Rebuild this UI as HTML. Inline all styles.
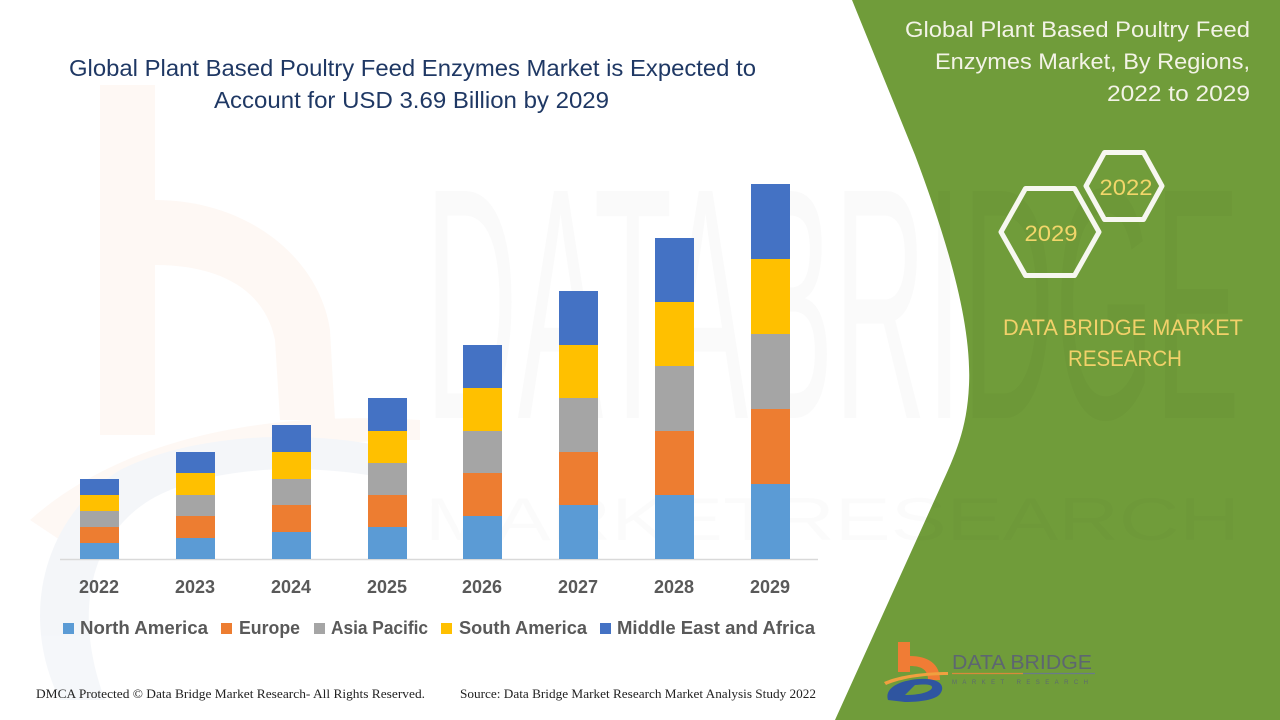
<!DOCTYPE html>
<html>
<head>
<meta charset="utf-8">
<style>
html,body{margin:0;padding:0;background:#fff;width:1280px;height:720px;overflow:hidden;}
svg{display:block;}
</style>
</head>
<body>
<svg width="1280" height="720" viewBox="0 0 1280 720" xmlns="http://www.w3.org/2000/svg">
  <rect width="1280" height="720" fill="#ffffff"/>

  <!-- faint watermark b (left) -->
  <g opacity="0.4">
    <rect x="100" y="85" width="55" height="350" fill="#fdeee4"/>
    <path d="M155,200 C250,200 320,260 330,330 L335,420 L280,420 L275,340 C265,290 220,265 155,265 Z" fill="#fdeee4"/>
    <path d="M30,520 C120,440 260,410 420,420 L420,440 C280,440 150,470 60,540 Z" fill="#fdeee4"/>
    <path d="M60,700 C20,620 40,520 120,470 C200,430 320,430 400,450 L395,480 C310,462 210,465 150,500 C85,540 75,620 105,700 Z" fill="#e6ebf2"/>
  </g>

  <!-- green panel -->
  <path d="M852,0 L915,155 C945,235 972,320 969,385 C967,430 955,455 940,488 L835,720 L1280,720 L1280,0 Z" fill="#709c3a"/>

  <!-- faint DATA BRIDGE watermark letters (over both areas) -->
  <g opacity="0.014" font-family="Liberation Sans, sans-serif" fill="#000">
    <text x="425" y="418" font-size="110" transform="translate(0,418) scale(1,3) translate(0,-418)" textLength="815" lengthAdjust="spacingAndGlyphs">DATABRIDGE</text>
  </g>
  <g opacity="0.012" font-family="Liberation Sans, sans-serif" fill="#000">
    <text x="425" y="540" font-size="60" textLength="815" lengthAdjust="spacingAndGlyphs">MARKETRESEARCH</text>
  </g>

  <!-- main title -->
  <g font-family="Liberation Sans, sans-serif" fill="#1f3864" font-size="23">
    <text x="69" y="76" textLength="687" lengthAdjust="spacingAndGlyphs">Global Plant Based Poultry Feed Enzymes Market is Expected to</text>
    <text x="214" y="108" textLength="395" lengthAdjust="spacingAndGlyphs">Account for USD 3.69 Billion by 2029</text>
  </g>

  <!-- axis -->
  <line x1="60" y1="559.5" x2="818" y2="559.5" stroke="#d9d9d9" stroke-width="1.5"/>

  <!-- bars -->
  <g>
    <rect x="80" y="543" width="39" height="16" fill="#5b9bd5"/>
    <rect x="80" y="527" width="39" height="16" fill="#ed7d31"/>
    <rect x="80" y="511" width="39" height="16" fill="#a5a5a5"/>
    <rect x="80" y="495" width="39" height="16" fill="#ffc000"/>
    <rect x="80" y="479" width="39" height="16" fill="#4472c4"/>

    <rect x="176" y="538" width="39" height="21" fill="#5b9bd5"/>
    <rect x="176" y="516" width="39" height="22" fill="#ed7d31"/>
    <rect x="176" y="495" width="39" height="21" fill="#a5a5a5"/>
    <rect x="176" y="473" width="39" height="22" fill="#ffc000"/>
    <rect x="176" y="452" width="39" height="21" fill="#4472c4"/>

    <rect x="272" y="532" width="39" height="27" fill="#5b9bd5"/>
    <rect x="272" y="505" width="39" height="27" fill="#ed7d31"/>
    <rect x="272" y="479" width="39" height="26" fill="#a5a5a5"/>
    <rect x="272" y="452" width="39" height="27" fill="#ffc000"/>
    <rect x="272" y="425" width="39" height="27" fill="#4472c4"/>

    <rect x="368" y="527" width="39" height="32" fill="#5b9bd5"/>
    <rect x="368" y="495" width="39" height="32" fill="#ed7d31"/>
    <rect x="368" y="463" width="39" height="32" fill="#a5a5a5"/>
    <rect x="368" y="431" width="39" height="32" fill="#ffc000"/>
    <rect x="368" y="398" width="39" height="33" fill="#4472c4"/>

    <rect x="463" y="516" width="39" height="43" fill="#5b9bd5"/>
    <rect x="463" y="473" width="39" height="43" fill="#ed7d31"/>
    <rect x="463" y="431" width="39" height="42" fill="#a5a5a5"/>
    <rect x="463" y="388" width="39" height="43" fill="#ffc000"/>
    <rect x="463" y="345" width="39" height="43" fill="#4472c4"/>

    <rect x="559" y="505" width="39" height="54" fill="#5b9bd5"/>
    <rect x="559" y="452" width="39" height="53" fill="#ed7d31"/>
    <rect x="559" y="398" width="39" height="54" fill="#a5a5a5"/>
    <rect x="559" y="345" width="39" height="53" fill="#ffc000"/>
    <rect x="559" y="291" width="39" height="54" fill="#4472c4"/>

    <rect x="655" y="495" width="39" height="64" fill="#5b9bd5"/>
    <rect x="655" y="431" width="39" height="64" fill="#ed7d31"/>
    <rect x="655" y="366" width="39" height="65" fill="#a5a5a5"/>
    <rect x="655" y="302" width="39" height="64" fill="#ffc000"/>
    <rect x="655" y="238" width="39" height="64" fill="#4472c4"/>

    <rect x="751" y="484" width="39" height="75" fill="#5b9bd5"/>
    <rect x="751" y="409" width="39" height="75" fill="#ed7d31"/>
    <rect x="751" y="334" width="39" height="75" fill="#a5a5a5"/>
    <rect x="751" y="259" width="39" height="75" fill="#ffc000"/>
    <rect x="751" y="184" width="39" height="75" fill="#4472c4"/>
  </g>

  <!-- year labels -->
  <g font-family="Liberation Sans, sans-serif" font-weight="bold" font-size="18" fill="#595959" text-anchor="middle">
    <text x="99" y="593">2022</text>
    <text x="195" y="593">2023</text>
    <text x="291" y="593">2024</text>
    <text x="387" y="593">2025</text>
    <text x="482" y="593">2026</text>
    <text x="578" y="593">2027</text>
    <text x="674" y="593">2028</text>
    <text x="770" y="593">2029</text>
  </g>

  <!-- legend -->
  <g font-family="Liberation Sans, sans-serif" font-weight="bold" font-size="18" fill="#595959">
    <rect x="63" y="623" width="11" height="11" fill="#5b9bd5"/>
    <text x="80" y="634" textLength="128" lengthAdjust="spacingAndGlyphs">North America</text>
    <rect x="221" y="623" width="11" height="11" fill="#ed7d31"/>
    <text x="239" y="634" textLength="61" lengthAdjust="spacingAndGlyphs">Europe</text>
    <rect x="314" y="623" width="11" height="11" fill="#a5a5a5"/>
    <text x="331" y="634" textLength="97" lengthAdjust="spacingAndGlyphs">Asia Pacific</text>
    <rect x="441" y="623" width="11" height="11" fill="#ffc000"/>
    <text x="459" y="634" textLength="128" lengthAdjust="spacingAndGlyphs">South America</text>
    <rect x="600" y="623" width="11" height="11" fill="#4472c4"/>
    <text x="617" y="634" textLength="198" lengthAdjust="spacingAndGlyphs">Middle East and Africa</text>
  </g>

  <!-- footer -->
  <g font-family="Liberation Serif, serif" font-size="12.5" fill="#222">
    <text x="36" y="698" textLength="389" lengthAdjust="spacingAndGlyphs">DMCA Protected © Data Bridge Market Research- All Rights Reserved.</text>
    <text x="460" y="698" textLength="356" lengthAdjust="spacingAndGlyphs">Source: Data Bridge Market Research Market Analysis Study 2022</text>
  </g>

  <!-- right title -->
  <g font-family="Liberation Sans, sans-serif" font-size="22.5" fill="#f3f3e6" text-anchor="end">
    <text x="1250" y="37" textLength="345" lengthAdjust="spacingAndGlyphs">Global Plant Based Poultry Feed</text>
    <text x="1250" y="69" textLength="315" lengthAdjust="spacingAndGlyphs">Enzymes Market, By Regions,</text>
    <text x="1250" y="101" textLength="143" lengthAdjust="spacingAndGlyphs">2022 to 2029</text>
  </g>

  <!-- hexagons -->
  <g fill="none" stroke="#f7f7f0" stroke-width="5" stroke-linejoin="round">
    <polygon points="1086,186 1104.5,152.5 1143.5,152.5 1162,186 1143.5,219.5 1104.5,219.5"/>
    <polygon points="1001,232 1025.5,188.5 1074.5,188.5 1099,232 1074.5,275.5 1025.5,275.5"/>
  </g>
  <g font-family="Liberation Sans, sans-serif" font-size="22" fill="#f2d66a" text-anchor="middle">
    <text x="1126" y="195" textLength="53" lengthAdjust="spacingAndGlyphs">2022</text>
    <text x="1051" y="241" textLength="53" lengthAdjust="spacingAndGlyphs">2029</text>
  </g>

  <!-- DATA BRIDGE MARKET RESEARCH -->
  <g font-family="Liberation Sans, sans-serif" font-size="22" fill="#f2d16a">
    <text x="1003" y="335" textLength="240" lengthAdjust="spacingAndGlyphs">DATA BRIDGE MARKET</text>
    <text x="1068" y="366" textLength="114" lengthAdjust="spacingAndGlyphs">RESEARCH</text>
  </g>

  <!-- bottom logo -->
  <g>
    <rect x="898" y="642" width="12" height="30" fill="#f07c35"/>
    <path d="M910,656 C928,656 940,664 940,680 L928,680 C928,670 922,666 910,666 Z" fill="#f07c35"/>
    <path d="M884,682 C900,675 925,672 948,672 L948,675 C925,675 902,678 886,685 Z" fill="#f0a040"/>
    <path d="M888,700 C884,688 900,680 920,679 C940,678 946,686 940,694 C935,700 920,702 905,702 Z M905,695 C920,695 930,692 932,688 C933,684 925,684 915,685 Z" fill="#2f55a0" fill-rule="evenodd"/>
    <text x="952" y="669" font-family="Liberation Sans, sans-serif" font-size="20" fill="#5d6670" textLength="140" lengthAdjust="spacingAndGlyphs">DATA BRIDGE</text>
    <line x1="952" y1="673.5" x2="1023" y2="673.5" stroke="#d88a3a" stroke-width="1.2"/>
    <line x1="1023" y1="673.5" x2="1095" y2="673.5" stroke="#6a7a8a" stroke-width="1.2"/>
    <text x="952" y="684" font-family="Liberation Sans, sans-serif" font-size="6" fill="#5d6a70" textLength="140" lengthAdjust="spacing" letter-spacing="4">MARKET RESEARCH</text>
  </g>
</svg>
</body>
</html>
